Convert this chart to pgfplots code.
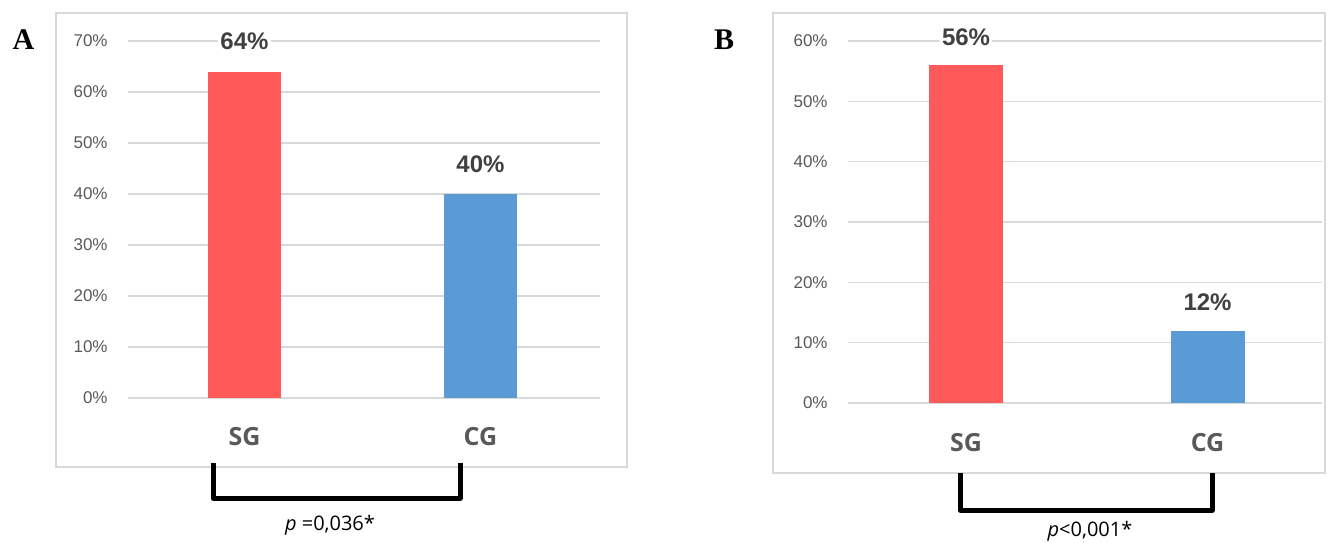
\documentclass[border=0pt]{standalone}
\usepackage{pgfplots}
\pgfplotsset{compat=1.18}
\usepackage{fontspec}
\setmainfont{Liberation Sans}
\newfontfamily\opensans{Open Sans}
\newfontfamily\timesf{Liberation Serif}
\definecolor{barred}{HTML}{FF5A5A}
\definecolor{barblue}{HTML}{5B9BD5}
\definecolor{gridgray}{HTML}{D9D9D9}
\definecolor{ticktext}{HTML}{595959}
\definecolor{valtext}{HTML}{404040}
\pgfplotsset{
  panel/.style={
    scale only axis,
    ybar, bar shift=0pt, ymin=0,
    axis line style={draw=none},
    major tick length=0pt,
    ymajorgrids, grid style={gridgray, line width=0.8pt},
    xtick={0,1}, xticklabels={SG,CG},
    xticklabel style={anchor=center, font=\opensans\bfseries\fontsize{12.5}{14}\selectfont, text=ticktext},
    yticklabel style={anchor=east, inner sep=0pt, xshift=-10pt, font=\fontsize{8.5}{10}\selectfont, text=ticktext},
    clip=false,
    nodes near coords={\pgfmathprintnumber[assume math mode=true]{\pgfplotspointmeta}\%},
    every node near coord/.append style={anchor=center, fill=white, inner sep=1pt, text=valtext, font=\bfseries\fontsize{12}{14}\selectfont},
  }
}
\begin{document}
\begin{tikzpicture}
\useasboundingbox (0,0) rectangle (671.5pt,-271pt);
% frames
\draw[gridgray, line width=0.8pt] (28pt,-6.5pt) rectangle (313.5pt,-233.5pt);
\draw[gridgray, line width=0.8pt] (386.5pt,-6.5pt) rectangle (662.5pt,-236.5pt);
% Panel A
\begin{axis}[panel,
  at={(64pt,-199pt)}, anchor=south west,
  width=236pt, height=178.5pt,
  xmin=-0.4936, xmax=1.5064, ymax=70,
  ytick={0,10,20,30,40,50,60,70},
  yticklabels={0\%,10\%,20\%,30\%,40\%,50\%,60\%,70\%},
  xticklabel style={yshift=-19.5pt},
  every node near coord/.append style={yshift=15pt},
  bar width=36.5pt]
\addplot[fill=barred, draw=none] coordinates {(0,64)};
\addplot[fill=barblue, draw=none] coordinates {(1,40)};
\end{axis}
% Panel B
\begin{axis}[panel,
  at={(424pt,-201.5pt)}, anchor=south west,
  width=237pt, height=181pt,
  xmin=-0.4886, xmax=1.474, ymax=60,
  ytick={0,10,20,30,40,50,60},
  yticklabels={0\%,10\%,20\%,30\%,40\%,50\%,60\%},
  xticklabel style={yshift=-20pt},
  every node near coord/.append style={yshift=14pt},
  bar width=37pt]
\addplot[fill=barred, draw=none] coordinates {(0,56)};
\addplot[fill=barblue, draw=none] coordinates {(1,12)};
\end{axis}
% brackets
\draw[black, line width=2.5pt, line join=round] (106.5pt,-231.5pt) -- (106.5pt,-249pt) -- (230pt,-249pt) -- (230pt,-231.5pt);
\draw[black, line width=2.5pt, line join=round] (480pt,-236.5pt) -- (480pt,-255pt) -- (606pt,-255pt) -- (606pt,-236.5pt);
\node[font=\opensans\fontsize{10}{12}\selectfont] at (165pt,-262.5pt) {\textit{p} =0,036*};
\node[font=\opensans\fontsize{10}{12}\selectfont] at (545pt,-265.5pt) {\textit{p}<0,001*};
% panel letters
\node[font=\timesf\bfseries\fontsize{15}{17}\selectfont] at (11.75pt,-20pt) {A};
\node[font=\timesf\bfseries\fontsize{15}{17}\selectfont] at (362pt,-20pt) {B};
\end{tikzpicture}
\end{document}
